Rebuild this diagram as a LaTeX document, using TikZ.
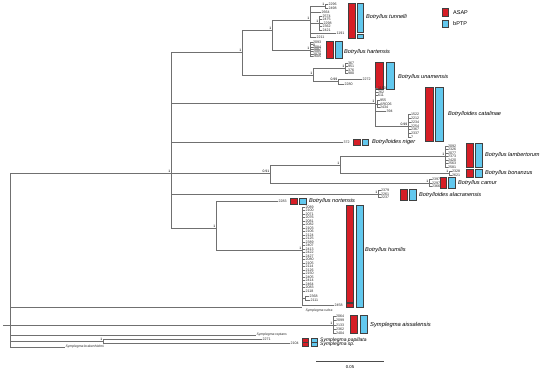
\documentclass[tikz,border=0pt]{standalone}
\usepackage{fontspec}
\setmainfont{Liberation Sans}
\usepackage{tikz}
\usetikzlibrary{positioning}

\definecolor{brgray}{RGB}{112,112,112}
\definecolor{asapred}{RGB}{214,30,38}
\definecolor{bptpblue}{RGB}{98,200,238}

\tikzset{
  branch/.style={draw=brgray, line width=0.8pt},
  tip/.style={anchor=west, inner sep=0.4pt, text=black!85, font=\fontsize{3.6}{4}\selectfont},
  supp/.style={anchor=south east, inner sep=0.6pt, font=\fontsize{3.4}{4}\selectfont},
  species/.style={anchor=west, inner sep=0pt, font=\fontsize{5.6}{6}\selectfont\itshape},
  smallsp/.style={anchor=west, inner sep=0.4pt, text=black!85, font=\fontsize{3.4}{4}\selectfont\itshape},
  legtext/.style={anchor=west, inner sep=0pt, font=\fontsize{5.5}{6}\selectfont},
  asap/.style={fill=asapred, draw=black!75, line width=0.35pt},
  bptp/.style={fill=bptpblue, draw=black!75, line width=0.35pt}
}

\begin{document}
\begin{tikzpicture}[x=1pt,y=-1pt]
\useasboundingbox (0,0) rectangle (550,372);

% Legend
\draw[asap] (442,8.3) rectangle (448.3,16);
\draw[bptp] (442,20) rectangle (448.3,27.3);
\node[legtext] (lasap) at (453,12.2) {ASAP};
\node[legtext] (lbptp) at (453,23.7) {bPTP};

% Backbone
\coordinate (root) at (10,325);
\coordinate (stub) at (3,325);
\coordinate (nA) at (171,173);
\coordinate (nB) at (242,52);
\coordinate (nC) at (272,30);
\coordinate (nD) at (313,75);
\coordinate (nG) at (375,103);
\coordinate (nH) at (270,173);
\coordinate (nI) at (340,165);
\coordinate (nJ) at (216,228);
\coordinate (nK) at (103,341);

\draw[branch] (stub) -- (root);
\draw[branch] (root) |- (nA);
\draw[branch] (nA) |- (nB);
\draw[branch] (nB) |- (nC);
\draw[branch] (nB) |- (nD);
\draw[branch] (nA) |- (nG);
\draw[branch] (nA) |- (nH);
\draw[branch] (nH) |- (nI);
\draw[branch] (nA) |- (nJ);
\draw[branch] (root) |- (nK);

\node[supp] (sA) at (nA) {1};
\node[supp] (sB) at (nB) {1};
\node[supp] (sC) at (nC) {1};
\node[supp] (sD) at (nD) {1};
\node[supp] (sG) at (nG) {1};
\node[supp] (sH) at (nH) {0.91};
\node[supp] (sI) at (nI) {1};
\node[supp] (sJ) at (nJ) {1};
\node[supp] (sK) at (nK) {1};

% Botryllus tunnelli
\coordinate (nT) at (310,20);
\coordinate (nT1) at (325,6);
\coordinate (nT2) at (319,23);
\draw[branch] (nC) |- (nT);
\draw[branch] (nT) |- (nT1);
\draw[branch] (nT) |- (nT2);
\node[supp] (sT) at (nT) {1};
\node[supp] (sT1) at (nT1) {1};
\node[supp] (sT2) at (nT2) {1};
\foreach \lab/\px/\py [count=\i] in {2296/328/4, 2498/328/8}
{
\coordinate (tua\i) at (\px,\py);
\draw[branch] (nT1) |- (tua\i);
\node[tip] (tual\i) at (tua\i) {\lab};
}
\foreach \lab/\px/\py [count=\i] in {2574/322/16, 2475/322/19.5, 2298/323/23, 2362/322/26.5, 2421/322/30}
{
\coordinate (tub\i) at (\px,\py);
\draw[branch] (nT2) |- (tub\i);
\node[tip] (tubl\i) at (tub\i) {\lab};
}
\foreach \lab/\px/\py [count=\i] in {2664/321/12, 1191/336/33.5, 2211/316/37}
{
\coordinate (tuc\i) at (\px,\py);
\draw[branch] (nT) |- (tuc\i);
\node[tip] (tucl\i) at (tuc\i) {\lab};
}
\draw[asap] (348,3) rectangle (355,38);
\draw[bptp] (357,3) rectangle (363,32.5);
\draw[bptp] (357,34.5) rectangle (363,38);
\node[species] (tun) at (366,17) {Botryllus tunnelli};

% Botryllus hartensis
\coordinate (nHa) at (310,50);
\draw[branch] (nC) |- (nHa);
\node[supp] (sHa) at (nHa) {1};
\foreach \lab [count=\i from 0] in {2093,8,2084,2087,2085,2079,2605}
{
\coordinate (ha\i) at (312.5,{42.5+2.3*\i});
\draw[branch] (nHa) |- (ha\i);
\node[tip] (hal\i) at (ha\i) {\lab};
}
\draw[asap] (326,41) rectangle (333,58);
\draw[bptp] (335,41) rectangle (342,58);
\node[species] (har) at (344,52) {Botryllus hartensis};

% Botryllus unamensis
\coordinate (nE) at (345,68.25);
\coordinate (nF) at (338,81.5);
\draw[branch] (nD) |- (nE);
\draw[branch] (nD) |- (nF);
\node[supp] (sE) at (nE) {1};
\node[supp] (sF) at (nF) {0.99};
\foreach \lab [count=\i from 0] in {367,951,376,980}
{
\coordinate (un\i) at (347.5,{63+3.5*\i});
\draw[branch] (nE) |- (un\i);
\node[tip] (unl\i) at (un\i) {\lab};
}
\coordinate (un4) at (362,79);
\coordinate (un5) at (344,84);
\draw[branch] (nF) |- (un4);
\draw[branch] (nF) |- (un5);
\node[tip] (unl4) at (un4) {2272};
\node[tip] (unl5) at (un5) {2280};
\draw[asap] (375,62) rectangle (383,89);
\draw[bptp] (386,62) rectangle (394,89);
\node[species] (una) at (398,77) {Botryllus unamensis};

% Botrylloides catalinae
\coordinate (nG1) at (377,104);
\coordinate (nG2) at (408,125.9);
\draw[branch] (nG) |- (nG1);
\draw[branch] (nG) |- (nG2);
\node[supp] (sG2) at (nG2) {0.99};
\foreach \lab [count=\i from 0] in {1150,262,611}
{
\coordinate (ca\i) at (377.5,{88.5+3.5*\i});
\draw[branch] (nG) |- (ca\i);
\node[tip] (cal\i) at (ca\i) {\lab};
}
\foreach \lab [count=\i from 0] in {955,ARC06,2434}
{
\coordinate (cb\i) at (379.5,{100.5+3.5*\i});
\draw[branch] (nG1) |- (cb\i);
\node[tip] (cbl\i) at (cb\i) {\lab};
}
\coordinate (cc) at (386,111.5);
\draw[branch] (nG) |- (cc);
\node[tip] (ccl) at (cc) {394};
\foreach \lab [count=\i from 0] in {1522,2212,2234,2254,2367,2337,7}
{
\coordinate (cd\i) at (410.5,{114.5+3.8*\i});
\draw[branch] (nG2) |- (cd\i);
\node[tip] (cdl\i) at (cd\i) {\lab};
}
\draw[asap] (425,87) rectangle (433,141);
\draw[bptp] (435,87) rectangle (443,141);
\node[species] (cat) at (448,114) {Botrylloides catalinae};

% Botrylloides niger
\coordinate (ni) at (343,142);
\draw[branch] (nA) |- (ni);
\node[tip] (nil) at (ni) {372};
\draw[asap] (353,139) rectangle (360,145.5);
\draw[bptp] (362,139) rectangle (368,145.5);
\node[species] (nig) at (372,142.3) {Botrylloides niger};

% Botryllus lambertorum, bonanzus, camur
\coordinate (nL) at (445,156.5);
\coordinate (nBo) at (449,173);
\coordinate (nCa) at (429,183);
\draw[branch] (nI) |- (nL);
\draw[branch] (nI) |- (nBo);
\draw[branch] (nH) |- (nCa);
\node[supp] (sL) at (nL) {1};
\node[supp] (sBo) at (nBo) {1};
\node[supp] (sCa) at (nCa) {1};
\foreach \lab [count=\i from 0] in {2092,2326,2077,2373,2420,2563,2581}
{
\coordinate (la\i) at (447.5,{146+3.5*\i});
\draw[branch] (nL) |- (la\i);
\node[tip] (lal\i) at (la\i) {\lab};
}
\foreach \lab [count=\i from 0] in {2328,2621}
{
\coordinate (bo\i) at (451.5,{171+4*\i});
\draw[branch] (nBo) |- (bo\i);
\node[tip] (bol\i) at (bo\i) {\lab};
}
\foreach \lab [count=\i from 0] in {2397,2297,2366}
{
\coordinate (cm\i) at (431.5,{179.5+3.5*\i});
\draw[branch] (nCa) |- (cm\i);
\node[tip] (cml\i) at (cm\i) {\lab};
}
\draw[asap] (466,143) rectangle (473,167.5);
\draw[bptp] (475,143) rectangle (482,167.5);
\node[species] (lam) at (485,155) {Botryllus lambertorum};
\draw[asap] (466,169.5) rectangle (473,177);
\draw[bptp] (475,169.5) rectangle (482,177);
\node[species] (bon) at (485,173.5) {Botryllus bonanzus};
\draw[asap] (440,177.5) rectangle (446,188.5);
\draw[bptp] (448,177.5) rectangle (455,188.5);
\node[species] (cam) at (458,183.5) {Botryllus camur};

% Botrylloides alacranensis
\coordinate (nAl) at (378,194);
\draw[branch] (nA) |- (nAl);
\node[supp] (sAl) at (nAl) {1};
\foreach \lab [count=\i from 0] in {2379,2261,2237}
{
\coordinate (al\i) at (380.5,{190.5+3.5*\i});
\draw[branch] (nAl) |- (al\i);
\node[tip] (all\i) at (al\i) {\lab};
}
\draw[asap] (400,189) rectangle (407,200);
\draw[bptp] (409,189) rectangle (416,200);
\node[species] (ala) at (419,195) {Botrylloides alacranensis};

% Botryllus nortensis
\coordinate (no) at (278,201.5);
\draw[branch] (nJ) |- (no);
\node[tip] (nol) at (no) {2283};
\draw[asap] (290,198.5) rectangle (297,204.5);
\draw[bptp] (299,198.5) rectangle (306,204.5);
\node[species] (nor) at (309,201.3) {Botryllus nortensis};

% Botryllus humilis
\coordinate (nHu) at (302,250);
\coordinate (nHs) at (305,298.5);
\draw[branch] (nJ) |- (nHu);
\draw[branch] (nHu) |- (nHs);
\node[supp] (sHu) at (nHu) {1};
\foreach \lab [count=\i from 0] in {2089,2100,2071,2076,2081,2082,2103,2106,2124,2125,2389,2407,2413,2422,2427,2080,2105,2114,2126,2150,2405,2414,2464,2083,2118}
{
\coordinate (hu\i) at (305,{207+3.5*\i});
\draw[branch] (nHu) |- (hu\i);
\node[tip] (hul\i) at (hu\i) {\lab};
}
\coordinate (hs1) at (309,296.5);
\coordinate (hs2) at (310,300.5);
\coordinate (hs3) at (334,305.5);
\draw[branch] (nHs) |- (hs1);
\draw[branch] (nHs) |- (hs2);
\draw[branch] (nHu) |- (hs3);
\node[tip] (hsl1) at (hs1) {2368};
\node[tip] (hsl2) at (hs2) {2111};
\node[tip] (hsl3) at (hs3) {2458};
\draw[asap] (346,205) rectangle (353,302.5);
\draw[asap] (346,303.5) rectangle (353,307.5);
\draw[bptp] (356,205) rectangle (363,307.5);
\node[species] (hum) at (365,250) {Botryllus humilis};

% Symplegma rubra
\coordinate (ru) at (302,307.5);
\draw[branch] (root) |- (ru);
\node[smallsp, anchor=north west] (rul) at (305,308.5) {Symplegma rubra};

% Symplegma aissalensis
\coordinate (nAi) at (333,325);
\draw[branch] (root) -- (nAi);
\node[supp] (sAi) at (nAi) {1};
\foreach \lab [count=\i from 0] in {2064,2099,2133,2362,2404}
{
\coordinate (ai\i) at (335.5,{316.4+4.3*\i});
\draw[branch] (nAi) |- (ai\i);
\node[tip] (ail\i) at (ai\i) {\lab};
}
\draw[asap] (350,315) rectangle (357,333.5);
\draw[bptp] (360,315) rectangle (367,333.5);
\node[species, font=\fontsize{5.8}{6}\selectfont\itshape] (ais) at (370,325) {Symplegma aissalensis};

% Symplegma reptans, papillata, sp.
\coordinate (re) at (256,335);
\draw[branch] (root) |- (re);
\node[smallsp] (rel) at (re) {Symplegma reptans};
\coordinate (pa) at (262,339);
\coordinate (sp) at (290,343);
\draw[branch] (nK) |- (pa);
\draw[branch] (nK) |- (sp);
\node[tip] (pal) at (pa) {2271};
\node[tip] (spl) at (sp) {2104};
\draw[asap] (302,338) rectangle (308,341.8);
\draw[bptp] (311,338) rectangle (317,341.8);
\draw[asap] (302,342.4) rectangle (308,346.2);
\draw[bptp] (311,342.4) rectangle (317,346.2);
\node[species, font=\fontsize{5}{5}\selectfont\itshape] (pap) at (320,339.8) {Symplegma papillata};
\node[species, font=\fontsize{5}{5}\selectfont\itshape] (ssp) at (320,344.5) {Symplegma sp.};

% Symplegma brakenhielmi
\coordinate (br) at (65,347);
\draw[branch] (root) |- (br);
\node[smallsp] (brl) at (br) {Symplegma brakenhielmi};

% Scale bar
\coordinate (sb1) at (316,361);
\coordinate (sb2) at (384,361);
\draw[branch, draw=black!70] (sb1) -- (sb2);
\node[font=\fontsize{4.2}{5}\selectfont, inner sep=0pt] (sbl) at (350,367) {0.05};

\end{tikzpicture}
\end{document}
